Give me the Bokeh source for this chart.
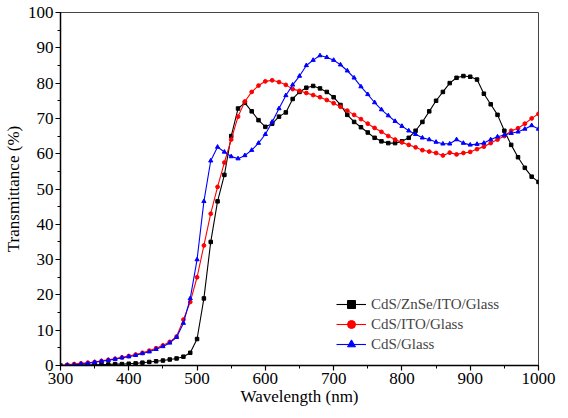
from bokeh.plotting import figure
from bokeh.models import SingleIntervalTicker, Legend
from bokeh.embed import file_html
from bokeh.resources import INLINE

wavelength = list(range(300, 1001, 10))

znse_ito = [0.0, 0.0, 0.1, 0.1, 0.2, 0.2, 0.3, 0.3, 0.4, 0.4,
            0.5, 0.6, 0.8, 1.0, 1.2, 1.4, 1.7, 2.0, 2.5, 3.6,
            7.5, 19, 35, 46.5, 54, 65, 72.8, 74.4, 72, 69.5,
            67.6, 68.5, 70.5, 71.7, 75.5, 77.5, 78.7, 79.2, 78.5, 77.5,
            76, 73.8, 71, 69, 67.5, 66, 64.5, 63.5, 63, 63,
            63.5, 64.5, 66.5, 69, 72, 75, 77.5, 80, 81.5, 82,
            81.8, 81, 77, 74, 71, 66.5, 62.5, 59, 56, 53.5, 52]

ito = [0.0, 0.2, 0.4, 0.6, 0.8, 1.0, 1.3, 1.6, 1.9, 2.3,
       2.7, 3.1, 3.6, 4.2, 4.9, 5.7, 6.7, 8.2, 13, 18,
       25, 34, 43, 50.6, 57.5, 64, 70.5, 74.8, 77.5, 79.3,
       80.5, 80.8, 80.3, 79.5, 78.3, 77.8, 77.2, 76.6, 76.0, 75.2,
       74.3, 73.3, 72.2, 71, 69.8, 68.5, 67.3, 66.2, 65, 64,
       63.2, 62.5, 61.8, 61, 60.6, 60.2, 59.5, 60.3, 59.8, 60.2,
       60.5, 61.3, 62, 63, 64, 65, 66.5, 67.2, 68.5, 70, 71.3]

glass = [0.0, 0.1, 0.2, 0.4, 0.6, 0.9, 1.2, 1.5, 1.8, 2.2,
         2.5, 2.9, 3.4, 3.9, 4.6, 5.4, 6.4, 8, 12, 19,
         30, 46.5, 58, 61.9, 60.5, 59.2, 58.6, 59.5, 61, 63,
         65.5, 69, 72.8, 76.5, 79.5, 82, 85, 86.5, 87.8, 87.3,
         86.5, 85.2, 83.5, 81.5, 79, 76.8, 74.5, 72.5, 70.8, 69.2,
         67.8, 66.5, 65.5, 64.5, 64, 63.3, 62.8, 62.8, 64, 63,
         62.5, 62.7, 63, 64, 64.8, 65.3, 65.8, 66.2, 67, 68, 67]

labels = ["CdS/ZnSe/ITO/Glass", "CdS/ITO/Glass", "CdS/Glass"]
colors = ["black", "red", "blue"]
markers = ["square", "circle", "triangle"]
sizes = [3.5, 3.8, 4.2]

FONT = "Liberation Serif"

p = figure(width=558, height=408, x_range=(300, 1000), y_range=(0, 100),
           output_backend="svg", toolbar_location=None,
           min_border_left=57, min_border_right=20, min_border_top=12,
           min_border_bottom=38)

p.xgrid.visible = False
p.ygrid.visible = False
p.outline_line_color = "#444444"
p.outline_line_width = 1

items = []
for ys, lab, col, mk, sz in zip([znse_ito, ito, glass], labels, colors, markers, sizes):
    l = p.line(wavelength, ys, line_color=col, line_width=1.1)
    s = p.scatter(wavelength, ys, marker=mk, size=sz, fill_color=col, line_color=col)
    items.append((lab, [l, s]))

legend = Legend(items=items, location=(276, 11))
legend.border_line_color = None
legend.background_fill_alpha = 0
legend.padding = 0
legend.margin = 0
legend.spacing = 0
legend.glyph_width = 30
legend.glyph_height = 20
legend.label_height = 20
legend.label_standoff = 5
legend.label_text_font = FONT
legend.label_text_font_size = "15px"
p.add_layout(legend, "center")

p.xaxis.ticker = SingleIntervalTicker(interval=100, num_minor_ticks=2)
p.yaxis.ticker = SingleIntervalTicker(interval=10, num_minor_ticks=2)

for ax in (p.xaxis[0], p.yaxis[0]):
    ax.axis_line_color = "black"
    ax.axis_line_width = 1.5
    ax.major_tick_in = 0
    ax.major_tick_out = 5
    ax.minor_tick_in = 0
    ax.minor_tick_out = 3
    ax.major_tick_line_width = 1.2
    ax.major_label_text_font = FONT
    ax.major_label_text_font_size = "17px"
    ax.major_label_text_color = "black"
    ax.axis_label_text_font = FONT
    ax.axis_label_text_font_size = "17px"
    ax.axis_label_text_font_style = "normal"
    ax.axis_label_text_color = "black"

p.xaxis.axis_label = "Wavelength (nm)"
p.yaxis.axis_label = "Transmittance (%)"
p.xaxis.major_label_standoff = 2
p.xaxis.axis_label_standoff = 0
p.yaxis.major_label_standoff = 2
p.yaxis.axis_label_standoff = 2

open("out.html", "w").write(file_html(p, INLINE))
